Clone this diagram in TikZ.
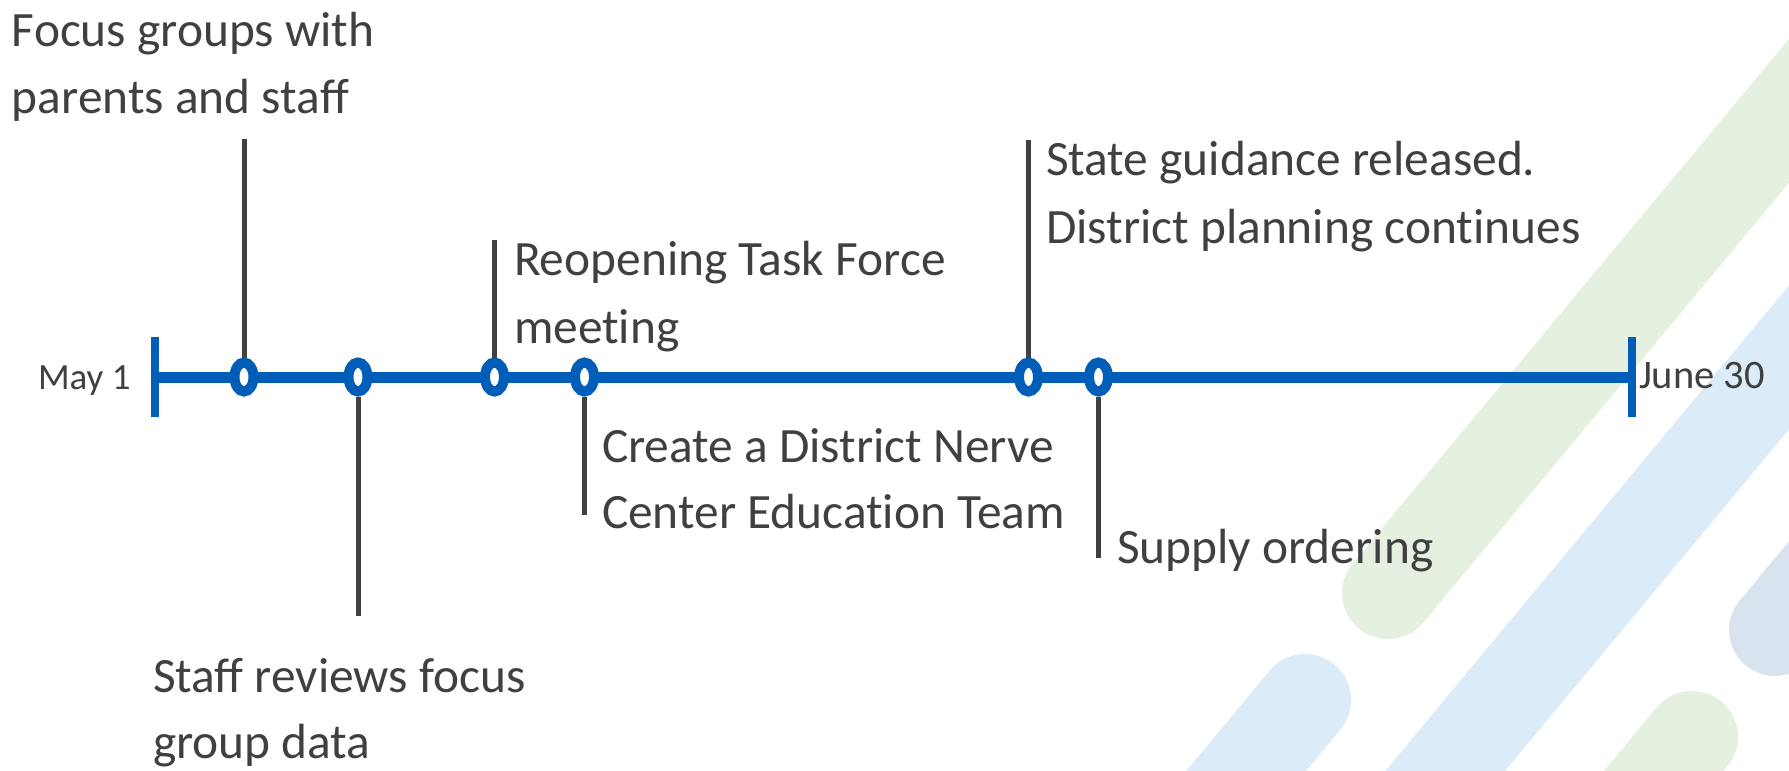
\documentclass[tikz,border=0pt]{standalone}
\usepackage{fontspec}
\setmainfont{Carlito}
\usetikzlibrary{shapes.geometric}
\definecolor{tlblue}{HTML}{005EB8}
\definecolor{txtgray}{HTML}{404040}
\definecolor{stgreen}{HTML}{E5F0E0}
\definecolor{stblue}{HTML}{DBEBF7}
\definecolor{stgray}{HTML}{D9E3EE}
\begin{document}
\begin{tikzpicture}[x=1pt,y=-1pt,
  stripe/.style={line width=92pt, line cap=round},
  evtext/.style={anchor=base west, inner sep=0pt, outer sep=0pt, text=txtgray, font=\fontsize{49.4}{58}\selectfont},
  datetext/.style={inner sep=0pt, outer sep=0pt, text=txtgray, font=\fontsize{40.5}{48}\selectfont},
  marker/.style={ellipse, draw=tlblue, line width=10pt, fill=white, minimum width=19pt, minimum height=29pt, inner sep=0pt, outer sep=5pt},
  tickmark/.style={rectangle, fill=tlblue, minimum width=7.5pt, minimum height=80pt, inner sep=0pt},
  conn/.style={draw=txtgray, line width=5pt},
  tline/.style={draw=tlblue, line width=11pt}
]
\useasboundingbox (0,0) rectangle (1789,771);
% background stripes
\begin{scope}
\clip (0,0) rectangle (1789,771);
\draw[stripe, stgreen] (1388,593) -- (2030,-179);
\draw[stripe, stblue] (1254,1001) -- (2086,0);
\draw[stripe, stblue] (1305,700) -- (1113,931);
\draw[stripe, stgreen] (1692,737) -- (1500,968);
\draw[stripe, stgray] (1775,630) -- (2031,322);
\end{scope}
% timeline
\node[tickmark] (t0) at (155,377) {};
\node[tickmark] (t1) at (1632,377) {};
\draw[tline] (t0.center) -- (t1.center);
% markers
\node[marker] (m1) at (244,377) {};
\node[marker] (m2) at (358,377) {};
\node[marker] (m3) at (494.5,377) {};
\node[marker] (m4) at (584.5,377) {};
\node[marker] (m5) at (1028.5,377) {};
\node[marker] (m6) at (1098.5,377) {};
% connector ends
\coordinate (c1) at (244,139);
\coordinate (c2) at (358,616);
\coordinate (c3) at (494.5,240);
\coordinate (c4) at (584.5,515);
\coordinate (c5) at (1028.5,140);
\coordinate (c6) at (1098.5,558);
\draw[conn] (m1.north) -- (c1);
\draw[conn] (m2.south) -- (c2);
\draw[conn] (m3.north) -- (c3);
\draw[conn] (m4.south) -- (c4);
\draw[conn] (m5.north) -- (c5);
\draw[conn] (m6.south) -- (c6);
% labels
\node[datetext, anchor=base west, font=\fontsize{37}{46}\selectfont] (d0) at (38,389) {May 1};
\node[datetext, anchor=base west] (d1) at (1639,388) {June 30};
\node[evtext] (e1a) at (12,46) {Focus groups with};
\node[evtext] (e1b) at (12,113) {parents and staff};
\node[evtext] (e2a) at (153,692) {Staff reviews focus};
\node[evtext] (e2b) at (153,758) {group data};
\node[evtext] (e3a) at (514,275) {Reopening Task Force};
\node[evtext] (e3b) at (514,343) {meet\kern0pt ing};
\node[evtext] (e4a) at (602,462) {Create a District Nerve};
\node[evtext] (e4b) at (602,528) {Center Educat\kern0pt ion Team};
\node[evtext] (e5a) at (1046,175) {State guidance released.};
\node[evtext] (e5b) at (1046,243) {District planning cont\kern0pt inues};
\node[evtext] (e6) at (1117,563) {Supply ordering};
\end{tikzpicture}
\end{document}
